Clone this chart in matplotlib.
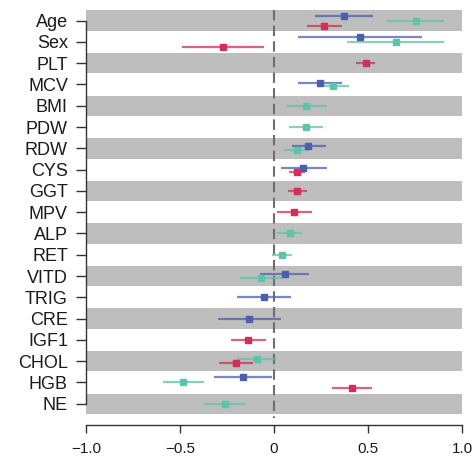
import matplotlib
matplotlib.use("Agg")
import matplotlib.pyplot as plt
import numpy as np

plt.rcParams['font.family'] = ['Liberation Sans', 'DejaVu Sans']

nan = np.nan

traits = ["Age", "Sex", "PLT", "MCV", "BMI", "PDW", "RDW", "CYS", "GGT", "MPV",
          "ALP", "RET", "VITD", "TRIG", "CRE", "IGF1", "CHOL", "HGB", "NE"]

# estimates and 95% intervals, one triple of arrays per group
blue_est = [0.370, 0.458, nan, 0.245, nan, nan, 0.183, 0.156, nan, nan,
            nan, nan, 0.059, -0.053, -0.132, nan, nan, -0.163, nan]
blue_lo = [0.218, 0.129, nan, 0.129, nan, nan, 0.094, 0.036, nan, nan,
           nan, nan, -0.074, -0.199, -0.300, nan, nan, -0.319, nan]
blue_hi = [0.528, 0.786, nan, 0.363, nan, nan, 0.275, 0.280, nan, nan,
           nan, nan, 0.186, 0.090, 0.036, nan, nan, -0.012, nan]

teal_est = [0.754, 0.648, nan, 0.316, 0.170, 0.170, 0.121, nan, nan, nan,
            0.083, 0.044, -0.067, nan, nan, nan, -0.089, -0.483, -0.261]
teal_lo = [0.603, 0.390, nan, 0.232, 0.062, 0.080, 0.053, nan, nan, nan,
           0.018, -0.009, -0.181, nan, nan, nan, -0.195, -0.593, -0.371]
teal_hi = [0.904, 0.905, nan, 0.399, 0.280, 0.262, 0.188, nan, nan, nan,
           0.151, 0.097, 0.046, nan, nan, nan, 0.018, -0.372, -0.151]

red_est = [0.268, -0.270, 0.488, nan, nan, nan, nan, 0.121, 0.121, 0.106,
           nan, nan, nan, nan, nan, -0.138, -0.202, 0.417, nan]
red_lo = [0.174, -0.488, 0.436, nan, nan, nan, nan, 0.081, 0.076, 0.014,
          nan, nan, nan, nan, nan, -0.230, -0.293, 0.307, nan]
red_hi = [0.363, -0.053, 0.539, nan, nan, nan, nan, 0.165, 0.174, 0.200,
          nan, nan, nan, nan, nan, -0.044, -0.113, 0.523, nan]

groups = [
    (blue_est, blue_lo, blue_hi, "#4C5FAF"),
    (teal_est, teal_lo, teal_hi, "#5EC4A9"),
    (red_est, red_lo, red_hi, "#D12F56"),
]

fig = plt.figure(figsize=(4.75, 4.59), dpi=100)
ax = fig.add_axes([86 / 475, 34 / 459, 376 / 475, 415 / 459])

n = len(traits)
ypos = np.arange(n)

# alternating grey bands
for i in range(0, n, 2):
    ax.axhspan(i - 0.48, i + 0.48, xmin=0, xmax=1, color="#BEBEBE", lw=0, zorder=0)

ax.vlines(0, -0.5, n - 0.35, colors="#6E6E6E", linestyles=(0, (5, 2.5)), lw=1.5, zorder=1)

# vertical dodge inside a row depends on how many groups are present
for i in range(n):
    present = [g for g in groups if not np.isnan(g[0][i])]
    if len(present) == 3:
        offs = [-0.24, 0.0, 0.24]
    elif len(present) == 2:
        offs = [-0.09, 0.09]
    else:
        offs = [0.0]
    for (est, lo, hi, col), d in zip(present, offs):
        y = i + d
        ax.plot([lo[i], hi[i]], [y, y], color=col, lw=1.6, alpha=0.75,
                solid_capstyle="butt", zorder=2)
        ax.plot(est[i], y, marker="s", ms=4.8, color=col, mec=col, zorder=3)

ax.set_xlim(-1, 1)
ax.set_ylim(19.0, -0.5)

ax.set_yticks(ypos)
ax.set_yticklabels(traits, fontsize=13, color="#1A1A1A")
ax.set_xticks([-1.0, -0.5, 0, 0.5, 1.0])
ax.set_xticklabels(["\u22121.0", "\u22120.5", "0", "0.5", "1.0"], fontsize=11, color="#1A1A1A")

ax.spines["top"].set_visible(False)
ax.spines["right"].set_visible(False)
ax.spines["left"].set_bounds(0, n - 1)
ax.spines["bottom"].set_bounds(-1, 1)
for s in ("left", "bottom"):
    ax.spines[s].set_color("#333333")
    ax.spines[s].set_linewidth(1.0)
ax.tick_params(axis="y", length=7, width=1.0, color="#333333", pad=6)
ax.tick_params(axis="x", length=6, width=1.0, color="#333333", pad=6)

fig.savefig("out.png", dpi=100)
